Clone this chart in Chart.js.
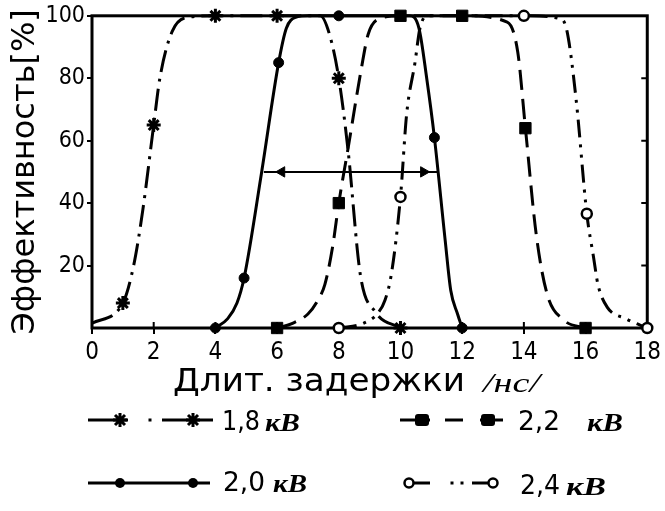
<!DOCTYPE html>
<html lang="ru">
<head>
<meta charset="UTF-8">
<title>Эффективность / длительность задержки</title>
<script src="https://cdn.jsdelivr.net/npm/chart.js"></script>
<style>
  html, body { margin: 0; padding: 0; background: #fff; }
  #wrap { position: relative; width: 665px; height: 511px; }
  #chart { position: absolute; left: 0; top: 0; }
  #overlay { position: absolute; left: 0; top: 0; pointer-events: none; }
  .num { font-family: 'Liberation Sans Narrow', 'DejaVu Sans Condensed', 'Liberation Sans', sans-serif; font-size: 26px; }
  .unit { font-family: 'Liberation Serif', serif; font-style: italic; font-weight: bold; font-size: 26px; }
</style>
</head>
<body>
<div id="wrap">
  <canvas id="chart" width="665" height="511"></canvas>
  <svg id="overlay" width="665" height="511" xmlns="http://www.w3.org/2000/svg">
    <!-- axis title -->
    <text x="173" y="391" style="font-family:'DejaVu Sans',sans-serif;font-size:32px" textLength="292" lengthAdjust="spacingAndGlyphs">Длит. задержки</text>
    <text x="483" y="392" style="font-family:'Liberation Serif',serif;font-style:italic;font-size:28px" textLength="57" lengthAdjust="spacingAndGlyphs">/нс/</text>

    <g stroke="#000" stroke-width="3" fill="#000">
      <!-- 1,8 кВ -->
      <line x1="88" y1="420" x2="128" y2="420"/>
      <rect x="148.5" y="418.5" width="3" height="3" stroke="none"/>
      <line x1="162" y1="420" x2="213" y2="420"/>
      <path d="M113 420H127M120 413V427M115 415L125 425M125 415L115 425"/>
      <path d="M186 420H200M193 413V427M188 415L198 425M198 415L188 425"/>
      <!-- 2,0 кВ -->
      <line x1="88" y1="483" x2="210" y2="483"/>
      <circle cx="120" cy="483" r="5" stroke="none"/>
      <circle cx="193" cy="483" r="5" stroke="none"/>
      <!-- 2,2 кВ -->
      <line x1="400" y1="420" x2="430" y2="420"/>
      <line x1="445" y1="420" x2="463" y2="420"/>
      <line x1="480" y1="420" x2="503" y2="420"/>
      <rect x="415" y="414" width="14" height="12" rx="3" stroke="none"/>
      <rect x="481" y="414" width="14" height="12" rx="3" stroke="none"/>
      <!-- 2,4 кВ -->
      <line x1="414" y1="483" x2="430" y2="483"/>
      <rect x="450.5" y="481.5" width="3" height="3" stroke="none"/>
      <rect x="460.5" y="481.5" width="3" height="3" stroke="none"/>
      <line x1="472" y1="483" x2="489" y2="483"/>
      <circle cx="409" cy="483" r="4.5" fill="#fff" stroke-width="2.5"/>
      <circle cx="493" cy="483" r="4.5" fill="#fff" stroke-width="2.5"/>
    </g>

    <text class="num" x="222" y="430" textLength="38" lengthAdjust="spacingAndGlyphs">1,8</text>
    <text class="unit" x="265" y="431" textLength="35" lengthAdjust="spacingAndGlyphs">кВ</text>
    <text class="num" x="518" y="430" textLength="42" lengthAdjust="spacingAndGlyphs">2,2</text>
    <text class="unit" x="587" y="431" textLength="36" lengthAdjust="spacingAndGlyphs">кВ</text>
    <text class="num" x="223" y="491" textLength="42" lengthAdjust="spacingAndGlyphs">2,0</text>
    <text class="unit" x="273" y="492" textLength="34" lengthAdjust="spacingAndGlyphs">кВ</text>
    <text class="num" x="520" y="494" textLength="40" lengthAdjust="spacingAndGlyphs">2,4</text>
    <text class="unit" x="566" y="495" textLength="40" lengthAdjust="spacingAndGlyphs">кВ</text>
  </svg>
</div>

<script>
  // tick labels
  const xTicks = [0, 2, 4, 6, 8, 10, 12, 14, 16, 18];
  const yTicks = [20, 40, 60, 80, 100];

  // 1,8 кВ  (m = 1 where a marker is drawn)
  const x18 = [0, 1, 1.35, 1.65, 2, 2.2, 2.6, 3.1, 4, 6, 7.4, 7.7, 8, 8.3, 8.7, 9.2, 10];
  const y18 = [1.5, 8, 20, 38, 65, 80, 95, 99.5, 100, 100, 100, 94, 80, 57, 17, 5, 0];
  const m18 = [0, 1, 0, 0, 1, 0, 0, 0, 1, 1, 0, 0, 1, 0, 0, 0, 1];

  // 2,0 кВ
  const x20 = [4, 4.4, 4.7, 4.93, 5.5, 6.05, 6.3, 6.6, 7, 8, 10.3, 10.6, 10.85, 11.1, 11.45, 11.63, 11.85, 12];
  const y20 = [0, 3, 8, 16, 50, 85, 96, 99.5, 100, 100, 100, 96, 80, 61, 28, 12, 4.5, 0];
  const m20 = [1, 0, 0, 1, 0, 1, 0, 0, 0, 1, 0, 0, 0, 1, 0, 0, 0, 1];

  // 2,2 кВ
  const x22 = [6, 6.5, 7, 7.3, 7.55, 7.8, 8, 8.3, 8.73, 8.95, 9.3, 10, 12, 13.46, 13.8, 14.05, 14.4, 14.75, 15.3, 16];
  const y22 = [0, 1.5, 4.5, 8.5, 14, 26, 40, 57.5, 83, 94, 99, 100, 100, 98, 88.5, 64, 30, 11, 2.5, 0];
  const m22 = [1, 0, 0, 0, 0, 0, 1, 0, 0, 0, 0, 1, 1, 0, 0, 1, 0, 0, 0, 1];

  // 2,4 кВ
  const x24 = [8, 8.8, 9.27, 9.5, 9.7, 10, 10.2, 10.47, 10.63, 10.9, 14, 15.2, 15.4, 15.7, 16.04, 16.26, 16.4, 16.7, 17.3, 18];
  const y24 = [0, 1.5, 4.8, 9, 17, 42, 68.5, 85, 96, 100, 100, 99, 95, 72.6, 36.6, 22.6, 14, 6.7, 3, 0];
  const m24 = [1, 0, 0, 0, 0, 1, 0, 0, 0, 0, 1, 0, 0, 0, 1, 0, 0, 0, 0, 1];

  // half-height width arrow of the 2,0 кВ curve
  const xArrow = [5.57, 6.15, 10.75, 11.2];
  const yArrow = [50, 50, 50, 50];
  const mArrow = [0, 1, 1, 0];
  const rotArrow = [0, -90, 90, 0];

  const pts = (xs, ys) => xs.map((x, i) => ({ x: x, y: ys[i] }));

  const frame = {
    id: 'frame',
    beforeDatasetsDraw(chart) {
      const { ctx, chartArea: a, scales: { x, y } } = chart;
      ctx.save();
      ctx.strokeStyle = '#000';
      ctx.lineWidth = 3;
      ctx.strokeRect(a.left, a.top, a.right - a.left, a.bottom - a.top);
      ctx.lineWidth = 2;
      ctx.beginPath();
      xTicks.forEach(v => {
        const px = x.getPixelForValue(v);
        ctx.moveTo(px, a.bottom); ctx.lineTo(px, a.bottom - 6);
      });
      yTicks.forEach(v => {
        if (v === 100) return;
        const py = y.getPixelForValue(v);
        ctx.moveTo(a.right, py); ctx.lineTo(a.right - 6, py);
      });
      ctx.stroke();
      ctx.restore();
    }
  };

  const base = {
    borderColor: '#000',
    borderWidth: 3,
    fill: false,
    clip: false,
    cubicInterpolationMode: 'monotone',
    pointBorderColor: '#000',
    pointBackgroundColor: '#000'
  };

  const ctx = document.getElementById('chart').getContext('2d');
  new Chart(ctx, {
    type: 'line',
    data: {
      datasets: [
        Object.assign({}, base, {
          label: '1,8 кВ', data: pts(x18, y18), borderDash: [22, 7, 3, 7],
          pointStyle: 'star', pointRadius: m18.map(m => m ? 7 : 0), pointBorderWidth: 3
        }),
        Object.assign({}, base, {
          label: '2,0 кВ', data: pts(x20, y20),
          pointStyle: 'circle', pointRadius: m20.map(m => m ? 5 : 0), pointBorderWidth: 1
        }),
        Object.assign({}, base, {
          label: '2,2 кВ', data: pts(x22, y22), borderDash: [20, 9],
          pointStyle: 'rect', pointRadius: m22.map(m => m ? 8 : 0), pointBorderWidth: 1
        }),
        Object.assign({}, base, {
          label: '2,4 кВ', data: pts(x24, y24), borderDash: [18, 7, 3, 7, 3, 7],
          pointStyle: 'circle', pointRadius: m24.map(m => m ? 5 : 0), pointBorderWidth: 2.5,
          pointBackgroundColor: '#fff'
        }),
        Object.assign({}, base, {
          label: 'arrow', data: pts(xArrow, yArrow), borderWidth: 2,
          cubicInterpolationMode: 'default', tension: 0,
          pointStyle: 'triangle', pointRadius: mArrow.map(m => m ? 6 : 0),
          pointRotation: rotArrow, pointBorderWidth: 1
        })
      ]
    },
    options: {
      responsive: false,
      animation: false,
      layout: { padding: { top: 14, right: 14, left: 0, bottom: 0 } },
      plugins: { legend: { display: false }, tooltip: { enabled: false } },
      scales: {
        x: {
          type: 'linear', min: 0, max: 18,
          afterFit: s => { s.height = 183; },
          afterBuildTicks: s => { s.ticks = xTicks.map(v => ({ value: v })); },
          border: { display: false },
          grid: { drawOnChartArea: false, tickLength: 6, color: '#000', lineWidth: 2 },
          ticks: {
            color: '#000', padding: 4,
            font: { family: "'Liberation Sans Narrow', 'DejaVu Sans Condensed', 'Liberation Sans', sans-serif", size: 24 }
          }
        },
        y: {
          min: 0, max: 100,
          afterFit: s => { s.width = 92; },
          afterBuildTicks: s => { s.ticks = yTicks.map(v => ({ value: v })); },
          border: { display: false },
          grid: { drawOnChartArea: false, tickLength: 5, color: '#000', lineWidth: 2 },
          ticks: {
            color: '#000', padding: 2,
            font: { family: "'Liberation Sans Narrow', 'DejaVu Sans Condensed', 'Liberation Sans', sans-serif", size: 23 }
          },
          title: {
            display: true, text: 'Эффективность[%]', color: '#000',
            padding: { top: 6, bottom: 0 },
            font: { family: "'DejaVu Sans', sans-serif", size: 32 }
          }
        }
      }
    },
    plugins: [frame]
  });
</script>
</body>
</html>
